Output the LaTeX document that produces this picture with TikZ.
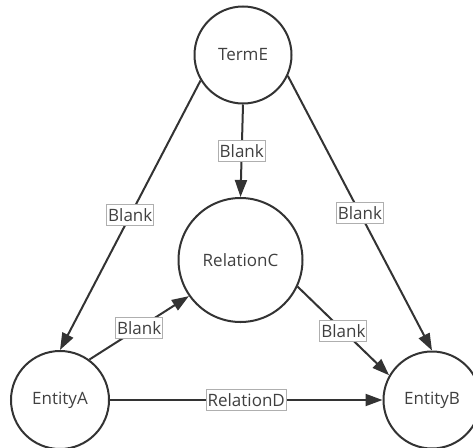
\documentclass[tikz,border=0pt]{standalone}
\usepackage{fontspec}
\setmainfont{Open Sans}
\usetikzlibrary{arrows.meta}
\definecolor{ink}{HTML}{333333}
\definecolor{txt}{HTML}{404040}
\definecolor{lbl}{HTML}{AFAFAF}
\begin{document}
\begin{tikzpicture}[x=1pt,y=-1pt,
  ent/.style={circle,draw=ink,line width=2pt,inner sep=0pt,text=txt,font=\fontsize{17}{19}\selectfont},
  conn/.style={draw=ink,line width=2pt,-{Triangle[length=17pt,width=12pt]}},
  tag/.style={draw=lbl,fill=white,line width=0.9pt,inner xsep=1.5pt,inner ysep=0pt,minimum height=21pt,text=txt,font=\fontsize{17}{19}\selectfont}]
\useasboundingbox (0,0) rectangle (473,447);
\node[ent,minimum size=97pt] (TermE) at (243,55) {TermE};
\node[ent,minimum size=124pt] (RelationC) at (240.5,260) {RelationC};
\node[ent,minimum size=98pt] (EntityA) at (60,400) {EntityA};
\node[ent,minimum size=97pt] (EntityB) at (432,400) {EntityB};
\draw[conn] (TermE.211) -- node[tag]{Blank} (EntityA.north);
\draw[conn] (TermE.south) -- node[tag]{Blank} (RelationC.north);
\draw[conn] (TermE.-25) -- node[tag]{Blank} (EntityB.north);
\draw[conn] (EntityA.54) -- node[tag]{Blank} (RelationC.215);
\draw[conn] (RelationC.-25) -- node[tag]{Blank} (EntityB.150);
\draw[conn] (EntityA.east) -- node[tag]{RelationD} (EntityB.west);
\end{tikzpicture}
\end{document}
